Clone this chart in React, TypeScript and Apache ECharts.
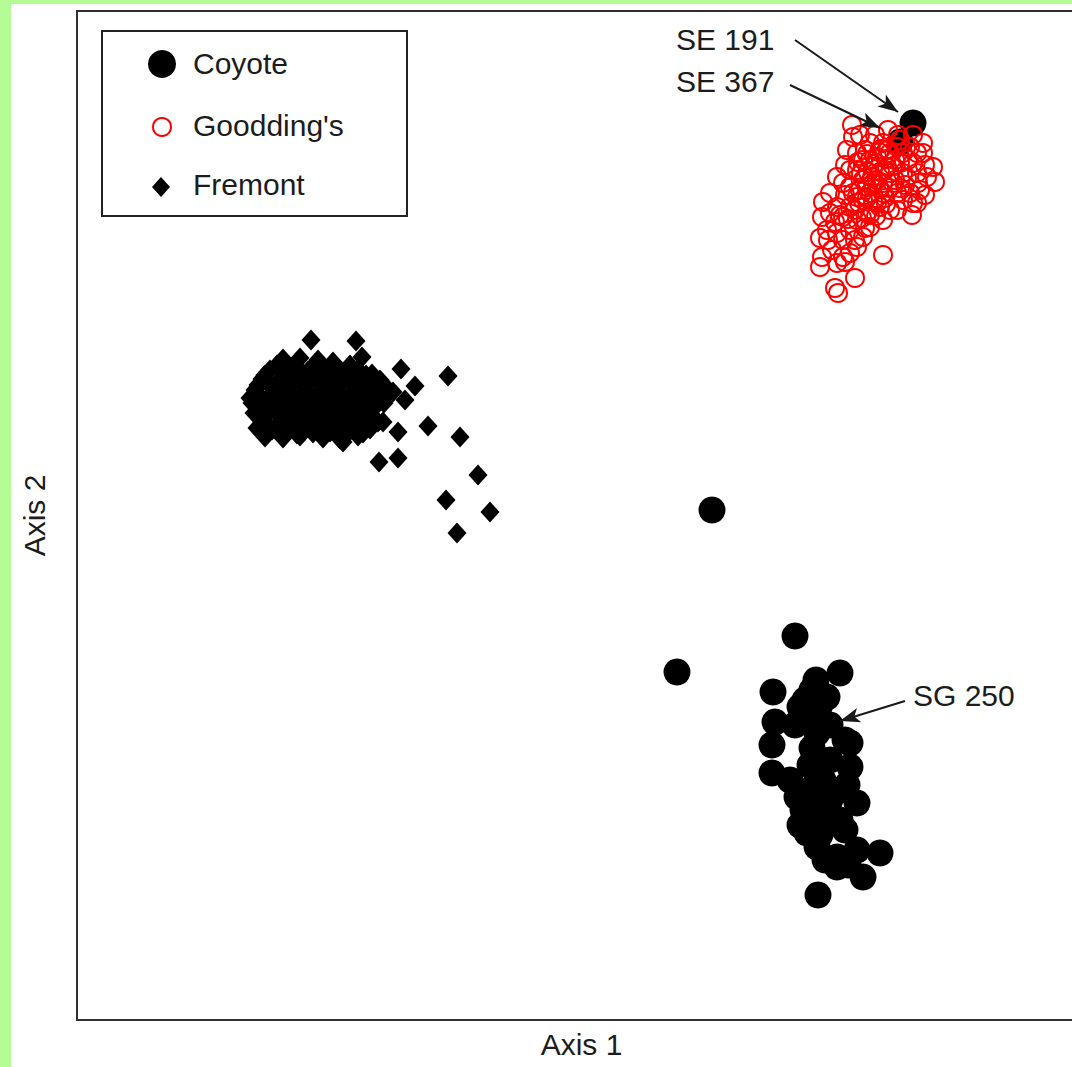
import React, { useEffect, useRef } from "react";
import * as echarts from "echarts";

const seriesNames = ["Coyote", "Goodding's", "Fremont"];
const axisNames = ["Axis 1", "Axis 2"];

const coyote: number[][] = [
  [83.6, 89.7], [82.3, 87.8], [63.5, 51.0], [71.8, 38.4], [60.0, 34.8], [76.3, 34.7],
  [73.9, 34.0], [69.6, 32.8], [72.3, 31.3], [75.0, 32.3], [73.3, 30.7], [69.8, 29.8],
  [74.0, 28.7], [69.5, 27.5], [77.3, 27.7], [75.3, 26.0], [77.3, 25.3], [69.5, 24.7],
  [71.3, 24.0], [74.6, 24.0], [77.0, 23.5], [72.0, 22.3], [74.3, 22.0], [78.0, 21.7],
  [72.6, 21.0], [75.3, 20.0], [73.0, 18.7], [74.0, 17.3], [78.0, 17.0], [80.3, 16.7],
  [76.0, 16.3], [76.0, 15.3], [78.6, 14.3], [74.1, 12.5],
  [72.8, 32.0], [74.3, 31.5], [75.3, 29.5], [73.5, 27.2], [73.3, 25.5], [76.3, 23.0],
  [73.8, 23.5], [75.3, 22.0], [73.3, 20.0], [74.3, 18.5], [76.8, 19.0], [76.3, 20.0],
  [71.8, 29.5], [76.8, 28.0], [72.3, 19.5], [74.8, 16.0], [77.1, 15.5], [73.5, 33.0],
];

const goodding: number[][] = [
  [77.5, 89.5], [77.6, 88.3], [76.8, 85.5], [85.6, 85.3], [85.8, 83.8], [84.6, 86.7],
  [83.6, 88.5], [82.1, 88.5], [74.6, 81.8], [74.5, 80.3], [75.3, 82.7], [74.3, 78.2],
  [74.5, 76.3], [74.3, 75.3], [76.0, 75.7], [76.6, 76.3], [75.8, 73.2], [76.1, 72.7],
  [77.8, 74.2], [80.6, 76.5], [83.5, 80.5], [83.6, 81.7], [84.3, 83.0], [78.6, 78.3],
  [77.3, 79.0], [76.0, 78.7], [78.0, 77.3], [81.3, 81.0], [80.3, 81.3], [79.0, 80.7],
  [77.3, 81.3], [76.0, 81.3], [77.3, 83.3], [78.6, 84.0], [80.0, 84.0], [81.3, 84.7],
  [82.6, 84.7], [84.0, 84.7], [85.0, 84.3], [83.3, 82.7], [82.0, 82.7], [80.6, 82.7],
  [79.3, 82.7], [78.0, 82.3], [78.6, 86.0], [80.0, 86.3], [81.3, 86.7], [82.6, 86.7],
  [84.0, 86.7], [78.0, 86.7], [79.3, 87.7], [80.6, 87.7], [82.0, 87.3], [83.3, 87.3],
  [84.6, 87.7], [77.3, 85.0], [76.0, 84.3], [77.0, 87.0], [79.6, 85.3], [81.0, 85.3],
  [82.3, 85.7], [83.6, 85.7], [78.6, 82.0], [80.0, 81.7], [82.6, 82.0], [84.0, 81.7],
  [80.6, 80.0], [78.0, 80.0], [76.6, 80.3], [75.3, 80.7], [75.0, 79.0], [79.3, 79.3],
  [76.6, 78.0], [77.3, 76.7], [75.5, 77.0], [79.6, 83.7], [78.0, 85.0], [80.6, 83.7],
  [81.6, 83.7],
  [78.8, 87.0], [79.8, 88.5], [81.1, 89.0], [78.3, 88.5], [79.1, 84.8], [80.3, 84.8],
  [81.8, 86.0], [83.1, 86.0], [81.8, 84.0], [82.8, 83.5], [84.1, 83.7], [78.3, 83.0],
  [76.8, 82.5], [76.3, 80.5], [77.8, 81.0], [79.3, 80.5], [80.8, 82.2], [78.8, 79.2],
  [77.8, 78.0], [75.8, 79.8], [75.1, 78.0], [76.8, 75.8], [79.3, 86.0], [78.1, 85.8],
  [76.6, 83.7], [81.1, 87.0], [82.3, 88.0], [84.8, 85.5], [84.8, 82.5], [82.0, 81.0],
  [79.0, 86.6], [80.4, 87.1], [79.9, 85.7], [80.9, 86.1], [79.5, 84.3], [80.8, 85.0],
  [78.4, 84.6], [79.0, 83.3], [80.2, 83.2], [81.2, 83.2], [78.2, 81.7], [79.6, 81.9],
  [80.9, 81.6], [77.6, 82.7], [79.0, 82.2], [78.5, 80.2], [79.9, 80.4], [77.1, 80.1],
  [82.3, 83.2], [83.0, 84.2], [81.6, 85.4], [80.2, 86.8],
];

const fremont: number[][] = [
  [23.4, 68.0], [27.9, 67.9], [28.5, 66.3], [32.4, 65.1], [37.1, 64.4], [33.8, 63.4],
  [31.6, 62.8], [32.8, 62.0], [35.1, 59.4], [32.1, 58.8], [38.3, 58.3], [30.2, 55.8],
  [32.1, 56.2], [40.1, 54.5], [36.9, 52.0], [41.3, 50.8], [38.0, 48.7],
  [20.6, 66.1], [22.3, 66.2], [24.1, 66.0], [25.6, 65.8],
  [19.3, 65.0], [21.3, 65.2], [23.1, 64.9], [24.8, 65.1], [26.5, 64.8], [28.1, 65.0], [29.5, 64.6],
  [18.5, 64.1], [20.1, 63.8], [21.8, 64.0], [23.5, 64.2], [25.3, 63.9], [27.0, 64.1], [28.8, 63.8], [30.3, 64.0],
  [17.8, 63.0], [19.5, 63.2], [21.1, 62.9], [22.8, 63.1], [24.5, 62.8], [26.1, 63.0], [27.8, 63.3], [29.5, 62.9],
  [17.3, 62.2], [18.9, 62.0], [20.5, 62.3], [22.1, 62.1], [23.8, 62.4], [25.5, 62.0], [27.1, 62.2], [28.7, 62.4], [30.5, 62.1],
  [18.1, 61.2], [19.8, 61.0], [21.5, 61.3], [23.1, 61.1], [24.8, 61.4], [26.5, 61.0], [28.1, 61.2], [29.8, 61.3],
  [18.5, 60.2], [20.3, 60.4], [21.9, 60.1], [23.6, 60.3], [25.3, 60.0], [26.9, 60.2], [28.5, 60.4], [30.6, 59.8],
  [18.0, 59.2], [19.5, 59.0], [21.2, 59.3], [22.8, 59.1], [24.5, 59.3], [26.1, 59.0], [27.8, 59.2], [29.3, 59.1],
  [18.8, 58.3], [20.6, 58.2], [22.3, 58.4], [24.6, 58.2], [26.3, 58.1], [28.1, 58.4],
  [20.0, 65.5], [21.8, 65.5], [23.8, 65.6], [25.8, 65.4], [27.3, 65.5],
  [18.8, 64.5], [20.6, 64.6], [22.3, 64.4], [24.1, 64.5], [25.9, 64.6], [27.5, 64.4], [28.9, 64.5],
  [18.1, 63.5], [19.3, 63.6], [21.0, 63.4], [22.6, 63.5], [24.3, 63.6], [26.1, 63.4], [27.9, 63.5], [29.6, 63.6], [30.8, 63.4],
  [18.1, 62.6], [19.7, 62.7], [21.3, 62.5], [22.9, 62.6], [24.6, 62.7], [26.3, 62.5], [27.9, 62.6], [29.6, 62.5],
  [17.5, 61.7], [18.9, 61.6], [20.6, 61.8], [22.3, 61.7], [23.9, 61.6], [25.6, 61.8], [27.3, 61.7], [28.9, 61.6], [30.7, 61.7],
  [17.7, 60.7], [19.3, 60.8], [21.0, 60.6], [22.7, 60.7], [24.3, 60.8], [26.0, 60.6], [27.7, 60.7], [29.3, 60.8],
  [18.5, 59.7], [20.3, 59.8], [22.0, 59.6], [23.7, 59.7], [25.3, 59.8], [27.0, 59.6], [28.6, 59.7], [30.1, 59.8],
  [18.8, 58.7], [20.4, 58.8], [22.0, 58.6], [23.6, 58.7], [25.3, 58.8], [27.0, 58.6], [28.6, 58.7],
  [18.5, 58.8], [26.6, 57.8],
];

const annotationLabels = ["SE 191", "SE 367", "SG 250"];
const annotationPos: number[][] = [[59.9, 98.1], [59.9, 93.9], [83.6, 32.5]];
const arrowStarts: number[][] = [[71.8, 98.0], [71.3, 93.5], [82.8, 31.9]];
const arrowEnds: number[][] = [[82.1, 90.8], [80.3, 89.2], [76.3, 29.9]];

const FONT = '"Liberation Sans", Arial, Helvetica, sans-serif';
const TEXT = "#1c1c1c";

export default function App() {
  const ref = useRef<HTMLDivElement>(null);
  useEffect(() => {
    if (!ref.current) return;
    const chart = echarts.init(ref.current, undefined, { renderer: "svg" });
    const legendTexts = [
      { text: seriesNames[0], y: 63 },
      { text: seriesNames[1], y: 125 },
      { text: seriesNames[2], y: 184 },
    ];
    chart.setOption({
      animation: false,
      backgroundColor: "transparent",
      grid: {
        left: 77,
        top: 11,
        width: 1009,
        height: 1009,
        show: true,
        borderColor: "#303030",
        borderWidth: 2,
        backgroundColor: "transparent",
      },
      xAxis: {
        type: "value",
        min: 0,
        max: 100.9,
        name: axisNames[0],
        nameLocation: "middle",
        nameGap: 9,
        nameTextStyle: { fontSize: 30, color: TEXT, fontFamily: FONT },
        axisLine: { show: false },
        axisTick: { show: false },
        axisLabel: { show: false },
        splitLine: { show: false },
      },
      yAxis: {
        type: "value",
        min: 0,
        max: 100.9,
        name: axisNames[1],
        nameLocation: "middle",
        nameGap: 28,
        nameTextStyle: { fontSize: 30, color: TEXT, fontFamily: FONT },
        axisLine: { show: false },
        axisTick: { show: false },
        axisLabel: { show: false },
        splitLine: { show: false },
      },
      series: [
        {
          name: seriesNames[0],
          type: "scatter",
          data: coyote,
          symbol: "circle",
          symbolSize: 27,
          itemStyle: { color: "#000", opacity: 1 },
          silent: true,
        },
        {
          name: seriesNames[1],
          type: "scatter",
          data: goodding,
          symbol: "circle",
          symbolSize: 18,
          itemStyle: { color: "rgba(0,0,0,0)", borderColor: "#ff0000", borderWidth: 2, opacity: 1 },
          silent: true,
        },
        {
          name: seriesNames[2],
          type: "scatter",
          data: fremont,
          symbol: "diamond",
          symbolSize: [19, 21],
          itemStyle: { color: "#000", opacity: 1 },
          silent: true,
        },
        {
          name: "annotations",
          type: "scatter",
          data: annotationLabels.map((n, i) => ({ name: n, value: annotationPos[i] })),
          symbolSize: 0,
          silent: true,
          itemStyle: { opacity: 1, color: TEXT },
          label: {
            show: true,
            position: "right",
            distance: 0,
            formatter: "{b}",
            fontSize: 30,
            color: TEXT,
            opacity: 1,
            fontFamily: FONT,
          },
          markLine: {
            silent: true,
            symbol: ["none", "arrow"],
            symbolSize: [11, 20],
            label: { show: false },
            lineStyle: { color: "#1a1a1a", width: 2, type: "solid", opacity: 1 },
            data: arrowStarts.map((s, i) => [{ coord: s }, { coord: arrowEnds[i] }]),
          },
          z: 5,
        },
      ],
      graphic: [
        {
          type: "rect",
          z: 50,
          shape: { x: 102, y: 31, width: 305, height: 185 },
          style: { fill: "#fff", stroke: "#222", lineWidth: 2 },
        },
        {
          type: "circle",
          z: 51,
          shape: { cx: 162, cy: 64, r: 14 },
          style: { fill: "#000" },
        },
        {
          type: "circle",
          z: 51,
          shape: { cx: 162, cy: 127, r: 9 },
          style: { fill: "none", stroke: "#ff0000", lineWidth: 2 },
        },
        {
          type: "polygon",
          z: 51,
          shape: { points: [[161, 177], [170, 187], [161, 197], [152, 187]] },
          style: { fill: "#000" },
        },
        ...legendTexts.map((t) => ({
          type: "text",
          z: 51,
          x: 193,
          y: t.y,
          style: {
            text: t.text,
            fill: TEXT,
            font: `30px ${FONT}`,
            textAlign: "left",
            textVerticalAlign: "middle",
            align: "left",
            verticalAlign: "middle",
          },
        })),
      ],
    });
    return () => chart.dispose();
  }, []);

  return (
    <div
      style={{
        position: "absolute",
        left: 0,
        top: 0,
        width: 1072,
        height: 1067,
        overflow: "hidden",
        background: "#b4fd96",
      }}
    >
      <div style={{ position: "absolute", left: 11, top: 4, right: 0, bottom: 0, background: "#fff" }} />
      <div ref={ref} style={{ position: "absolute", left: 0, top: 0, width: 1100, height: 1067 }} />
    </div>
  );
}
